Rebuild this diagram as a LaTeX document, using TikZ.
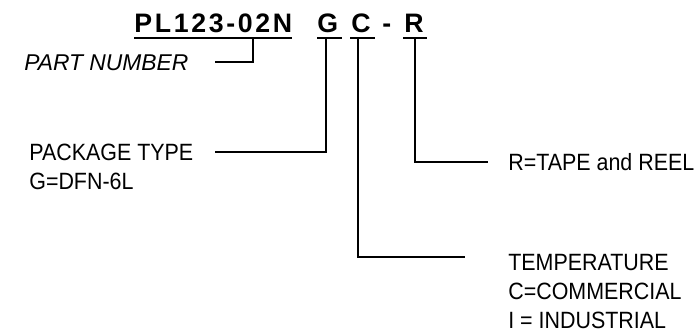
\documentclass[tikz,border=0pt]{standalone}
\usepackage{fontspec}
\setmainfont{Liberation Sans}
\newfontfamily\lblfont[FakeStretch=0.91]{Liberation Sans}
\newfontfamily\codefont[LetterSpace=10]{Liberation Sans}

\tikzset{
  code/.style={anchor=base west, inner sep=0pt, font=\codefont\bfseries\fontsize{15.2}{17}\selectfont},
  lbl/.style={anchor=base west, inner sep=0pt, align=left, font=\lblfont\fontsize{13.4}{16.3}\selectfont},
  uline/.style={line width=1.6pt},
  leader/.style={line width=0.75pt}
}

\begin{document}
\begin{tikzpicture}[x=0.02cm, y=-0.02cm]

    \useasboundingbox (0,0) rectangle (698,332);

    % 型号各段
    \node[code] (pn) at (134,32) {PL123-02N};
    \node[code] (g) at (317,32) {G};
    \node[code] (c) at (351,32) {C};
    \node[code] (dash) at (382,32) {-};
    \node[code] (r) at (404,32) {R};

    % 下划线
    \draw[uline] (134,38) -- (292,38);
    \draw[uline] (317,38) -- (342,38);
    \draw[uline] (350,38) -- (375,38);
    \draw[uline] (403,38) -- (427,38);

    % 说明文字 (多行节点以末行基线定位)
    \node[lbl, font=\itshape\fontsize{13}{16}\selectfont] (part) at (24,70) {PART NUMBER};
    \node[lbl] (pkg) at (29,189) {PACKAGE TYPE\\G=DFN-6L};
    \node[lbl] (reel) at (508,170) {R=TAPE and REEL};
    \node[lbl] (temp) at (508,328) {TEMPERATURE\\C=COMMERCIAL\\I = INDUSTRIAL};

    % 引线
    \coordinate (pn-top) at (253,38);
    \coordinate (pn-end) at (215,62);
    \coordinate (g-top) at (326,38);
    \coordinate (g-end) at (215,152);
    \coordinate (c-top) at (358,38);
    \coordinate (c-end) at (465,257);
    \coordinate (r-top) at (415,38);
    \coordinate (r-end) at (488,162);
    \draw[leader] (pn-top) |- (pn-end);
    \draw[leader] (g-top) |- (g-end);
    \draw[leader] (c-top) |- (c-end);
    \draw[leader] (r-top) |- (r-end);

  \end{tikzpicture}
\end{document}
